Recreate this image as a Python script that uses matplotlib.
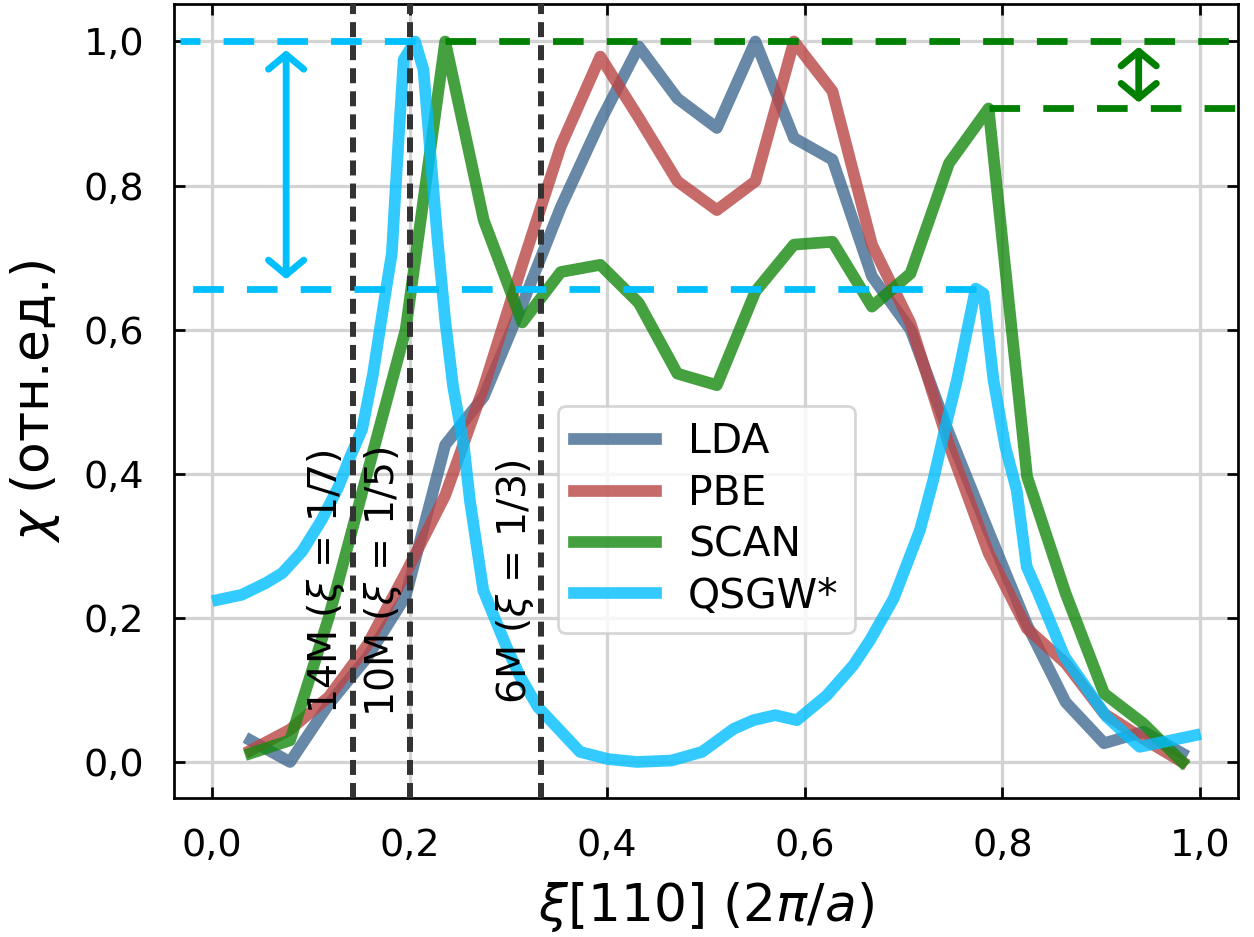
import matplotlib
matplotlib.use("Agg")
import matplotlib.pyplot as plt
from matplotlib.ticker import FuncFormatter

# ---- data ----
xi = [0.039, 0.079, 0.118, 0.157, 0.196, 0.236, 0.275, 0.314, 0.353, 0.393,
      0.432, 0.471, 0.511, 0.550, 0.589, 0.628, 0.668, 0.707, 0.746, 0.786,
      0.825, 0.864, 0.903, 0.943, 0.982]

lda = [0.030, 0.000, 0.080, 0.145, 0.230, 0.440, 0.507, 0.635, 0.770, 0.889,
       0.993, 0.921, 0.880, 1.000, 0.866, 0.836, 0.674, 0.600, 0.456, 0.320,
       0.190, 0.083, 0.026, 0.042, 0.012]

pbe = [0.016, 0.045, 0.090, 0.162, 0.262, 0.370, 0.520, 0.690, 0.855, 0.979,
       0.894, 0.806, 0.766, 0.806, 1.000, 0.931, 0.718, 0.609, 0.440, 0.290,
       0.185, 0.137, 0.067, 0.032, 0.000]

scan = [0.012, 0.030, 0.200, 0.400, 0.600, 1.000, 0.752, 0.610, 0.680, 0.690,
        0.637, 0.539, 0.523, 0.653, 0.718, 0.722, 0.632, 0.678, 0.831, 0.907,
        0.396, 0.234, 0.095, 0.053, 0.000]

qsgw_x = [0.006, 0.030, 0.054, 0.071, 0.091, 0.111, 0.128, 0.140, 0.152, 0.163,
          0.175, 0.182, 0.186, 0.190, 0.194, 0.2055, 0.214, 0.221, 0.228, 0.236,
          0.244, 0.255, 0.261, 0.2746, 0.298, 0.312, 0.330, 0.3725, 0.401, 0.430,
          0.465, 0.496, 0.528, 0.548, 0.570, 0.592, 0.622, 0.649, 0.666, 0.690,
          0.7166, 0.730, 0.740, 0.754, 0.773, 0.781, 0.791, 0.803, 0.8145, 0.8246,
          0.8364, 0.863, 0.9056, 0.939, 0.995]
qsgw_y = [0.225, 0.232, 0.248, 0.262, 0.292, 0.336, 0.382, 0.424, 0.462, 0.539,
          0.646, 0.706, 0.800, 0.890, 0.975, 1.000, 0.961, 0.845, 0.729, 0.613,
          0.521, 0.4375, 0.363, 0.238, 0.160, 0.118, 0.076, 0.014, 0.004, 0.000,
          0.002, 0.014, 0.046, 0.058, 0.065, 0.058, 0.092, 0.134, 0.169, 0.227,
          0.322, 0.391, 0.451, 0.530, 0.657, 0.650, 0.530, 0.4375, 0.377, 0.271,
          0.234, 0.146, 0.0625, 0.021, 0.037]

series_labels = ["LDA", "PBE", "SCAN", "QSGW*"]
phase_x = [1 / 7, 1 / 5, 1 / 3]
phase_labels = [r"14M ($\xi$ = 1/7)", r"10M ($\xi$ = 1/5)", r"6M ($\xi$ = 1/3)"]
xticks = [0.0, 0.2, 0.4, 0.6, 0.8, 1.0]
yticks = [0.0, 0.2, 0.4, 0.6, 0.8, 1.0]

# ---- figure ----
DPI = 196
fig = plt.figure(figsize=(1254 / DPI, 937 / DPI), dpi=DPI)
ax = fig.add_axes([174 / 1254, (937 - 798) / 937, (1238 - 174) / 1254, (798 - 4) / 937])

lw = 4.3
ax.plot(xi, lda, color="#426a92", alpha=0.8, lw=lw, label=series_labels[0], zorder=3)
ax.plot(xi, pbe, color="#ba4545", alpha=0.8, lw=lw, label=series_labels[1], zorder=3)
ax.plot(xi, scan, color="#168a10", alpha=0.8, lw=lw, label=series_labels[2], zorder=3)
ax.plot(qsgw_x, qsgw_y, color="#00bfff", alpha=0.8, lw=lw, label=series_labels[3], zorder=3)

# vertical phase lines
for xv, lab in zip(phase_x, phase_labels):
    ax.axvline(xv, color="#333333", lw=2.2, ls=(0, (2.5, 1.35)), zorder=4)
    ax.text(xv - 0.027, 0.25, lab, rotation=90, ha="center", va="center",
            fontsize=14.5, zorder=5)

# horizontal reference lines (QSGW peaks)
i1 = qsgw_y.index(max(qsgw_y))
i2 = qsgw_y.index(0.657)
dash = (0, (4.5, 3.4))
ax.plot([qsgw_x[i1], -0.032], [qsgw_y[i1], qsgw_y[i1]], color="#00bfff", lw=2.5, ls=dash, zorder=4)
ax.plot([qsgw_x[i2], -0.021], [qsgw_y[i2], qsgw_y[i2]], color="#00bfff", lw=2.5, ls=dash, zorder=4)
# SCAN peaks
j1 = scan.index(max(scan))
j2 = scan.index(0.907)
ax.plot([xi[j1], 1.2], [scan[j1], scan[j1]], color="green", lw=2.5, ls=dash, zorder=4)
ax.plot([xi[j2], 1.2], [scan[j2], scan[j2]], color="green", lw=2.5, ls=dash, zorder=4)

# arrows
astyle = "<->,head_length=0.30,head_width=0.36"
ax.annotate("", xy=(0.075, 0.988), xytext=(0.075, 0.670),
            arrowprops=dict(arrowstyle=astyle, color="#00bfff", lw=2.5,
                            mutation_scale=18, shrinkA=0, shrinkB=0), zorder=5)
ax.annotate("", xy=(0.938, 0.9926), xytext=(0.938, 0.9153),
            arrowprops=dict(arrowstyle=astyle, color="green", lw=2.5,
                            mutation_scale=18, shrinkA=0, shrinkB=0), zorder=5)

ax.set_xlim(-0.0385, 1.0385)
ax.set_ylim(-0.05, 1.052)
ax.set_xticks(xticks)
ax.set_yticks(yticks)
fmt = FuncFormatter(lambda v, p: f"{v:.1f}".replace(".", ","))
ax.xaxis.set_major_formatter(fmt)
ax.yaxis.set_major_formatter(fmt)
ax.tick_params(direction="in", top=True, right=True, length=4, width=1.0,
               labelsize=14, pad=11)
ax.grid(True, color="#d3d3d3", lw=1.2)
for s in ax.spines.values():
    s.set_linewidth(1.0)

ax.set_xlabel(r"$\xi$[110] (2$\pi$/$a$)", fontsize=19, labelpad=6)
ax.set_ylabel(r"$\chi$ (отн.ед.)", fontsize=19, labelpad=8)

ax.legend(loc="center", bbox_to_anchor=(0.5003, 0.3507), fontsize=15,
          handlelength=2.0, labelspacing=0.28)

fig.savefig("out.png", dpi=DPI)
